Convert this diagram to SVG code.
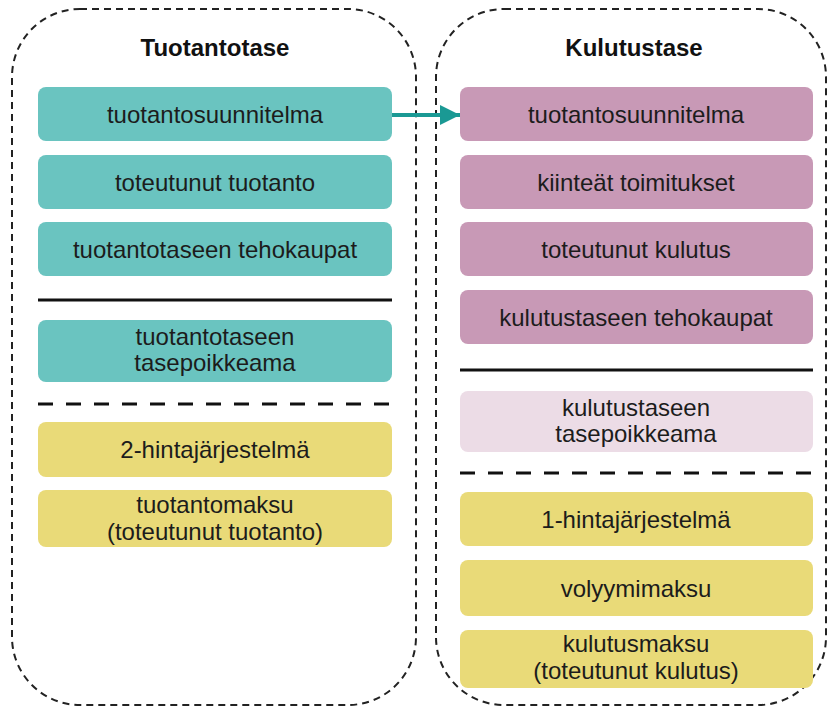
<svg xmlns="http://www.w3.org/2000/svg" width="830" height="709" viewBox="0 0 830 709">
<defs>
<style>
.cont{fill:none;stroke:#222;stroke-width:2;stroke-dasharray:7 5}
.t{fill:#6ac4c0}
.p{fill:#c899b6}
.lp{fill:#ecdce6}
.y{fill:#e9da78}
text{font-family:"Liberation Sans",Arial,sans-serif;font-size:24px;fill:#1c1c1c;text-anchor:middle}
.title{font-weight:bold;font-size:24px;fill:#111}
.sep{stroke:#111;stroke-width:3}
.sepd{stroke:#111;stroke-width:3;stroke-dasharray:15 13}
</style>
<marker id="ah" markerWidth="20" markerHeight="20" refX="20" refY="10" orient="auto" markerUnits="userSpaceOnUse">
<path d="M0,0 L20,10 L0,20 z" fill="#1a9994"/>
</marker>
</defs>
<rect width="830" height="709" fill="#fff"/>
<g id="tuotantotase">
<rect class="cont" x="12" y="9" width="404" height="696" rx="68" ry="68"/>
<text class="title" x="215" y="56">Tuotantotase</text>
<line class="sep" x1="38" y1="300" x2="392" y2="300"/>
<line class="sepd" x1="38" y1="404" x2="392" y2="404"/>
</g>
<g id="kulutustase">
<rect class="cont" x="436" y="9" width="390" height="696" rx="68" ry="68"/>
<text class="title" x="634" y="56">Kulutustase</text>
<line class="sep" x1="460" y1="370" x2="813" y2="370"/>
<line class="sepd" x1="460" y1="473" x2="813" y2="473"/>
</g>
<g id="t1"><rect class="t" x="38" y="87" width="354" height="54" rx="8"/><text x="215" y="123">tuotantosuunnitelma</text></g>
<g id="t2"><rect class="t" x="38" y="155" width="354" height="54" rx="8"/><text x="215" y="191">toteutunut tuotanto</text></g>
<g id="t3"><rect class="t" x="38" y="222" width="354" height="54" rx="8"/><text x="215" y="258">tuotantotaseen tehokaupat</text></g>
<g id="t4"><rect class="t" x="38" y="320" width="354" height="62" rx="8"/><text x="215" y="345">tuotantotaseen</text><text x="215" y="371">tasepoikkeama</text></g>
<g id="t5"><rect class="y" x="38" y="422" width="354" height="55" rx="8"/><text x="215" y="458">2-hintajärjestelmä</text></g>
<g id="t6"><rect class="y" x="38" y="490" width="354" height="57" rx="8"/><text x="215" y="513">tuotantomaksu</text><text x="215" y="540">(toteutunut tuotanto)</text></g>
<g id="k1"><rect class="p" x="460" y="87" width="353" height="54" rx="8"/><text x="636" y="123">tuotantosuunnitelma</text></g>
<g id="k2"><rect class="p" x="460" y="155" width="353" height="54" rx="8"/><text x="636" y="191">kiinteät toimitukset</text></g>
<g id="k3"><rect class="p" x="460" y="222" width="353" height="54" rx="8"/><text x="636" y="258">toteutunut kulutus</text></g>
<g id="k4"><rect class="p" x="460" y="290" width="353" height="54" rx="8"/><text x="636" y="326">kulutustaseen tehokaupat</text></g>
<g id="k5"><rect class="lp" x="460" y="391" width="353" height="61" rx="8"/><text x="636" y="416">kulutustaseen</text><text x="636" y="442">tasepoikkeama</text></g>
<g id="k6"><rect class="y" x="460" y="492" width="353" height="54" rx="8"/><text x="636" y="528">1-hintajärjestelmä</text></g>
<g id="k7"><rect class="y" x="460" y="560" width="353" height="56" rx="8"/><text x="636" y="597">volyymimaksu</text></g>
<g id="k8"><rect class="y" x="460" y="630" width="353" height="58" rx="8"/><text x="636" y="652">kulutusmaksu</text><text x="636" y="679">(toteutunut kulutus)</text></g>
<g id="connectors">
<line x1="392" y1="115" x2="460" y2="115" stroke="#1a9994" stroke-width="4" marker-end="url(#ah)"/>
</g>
</svg>
